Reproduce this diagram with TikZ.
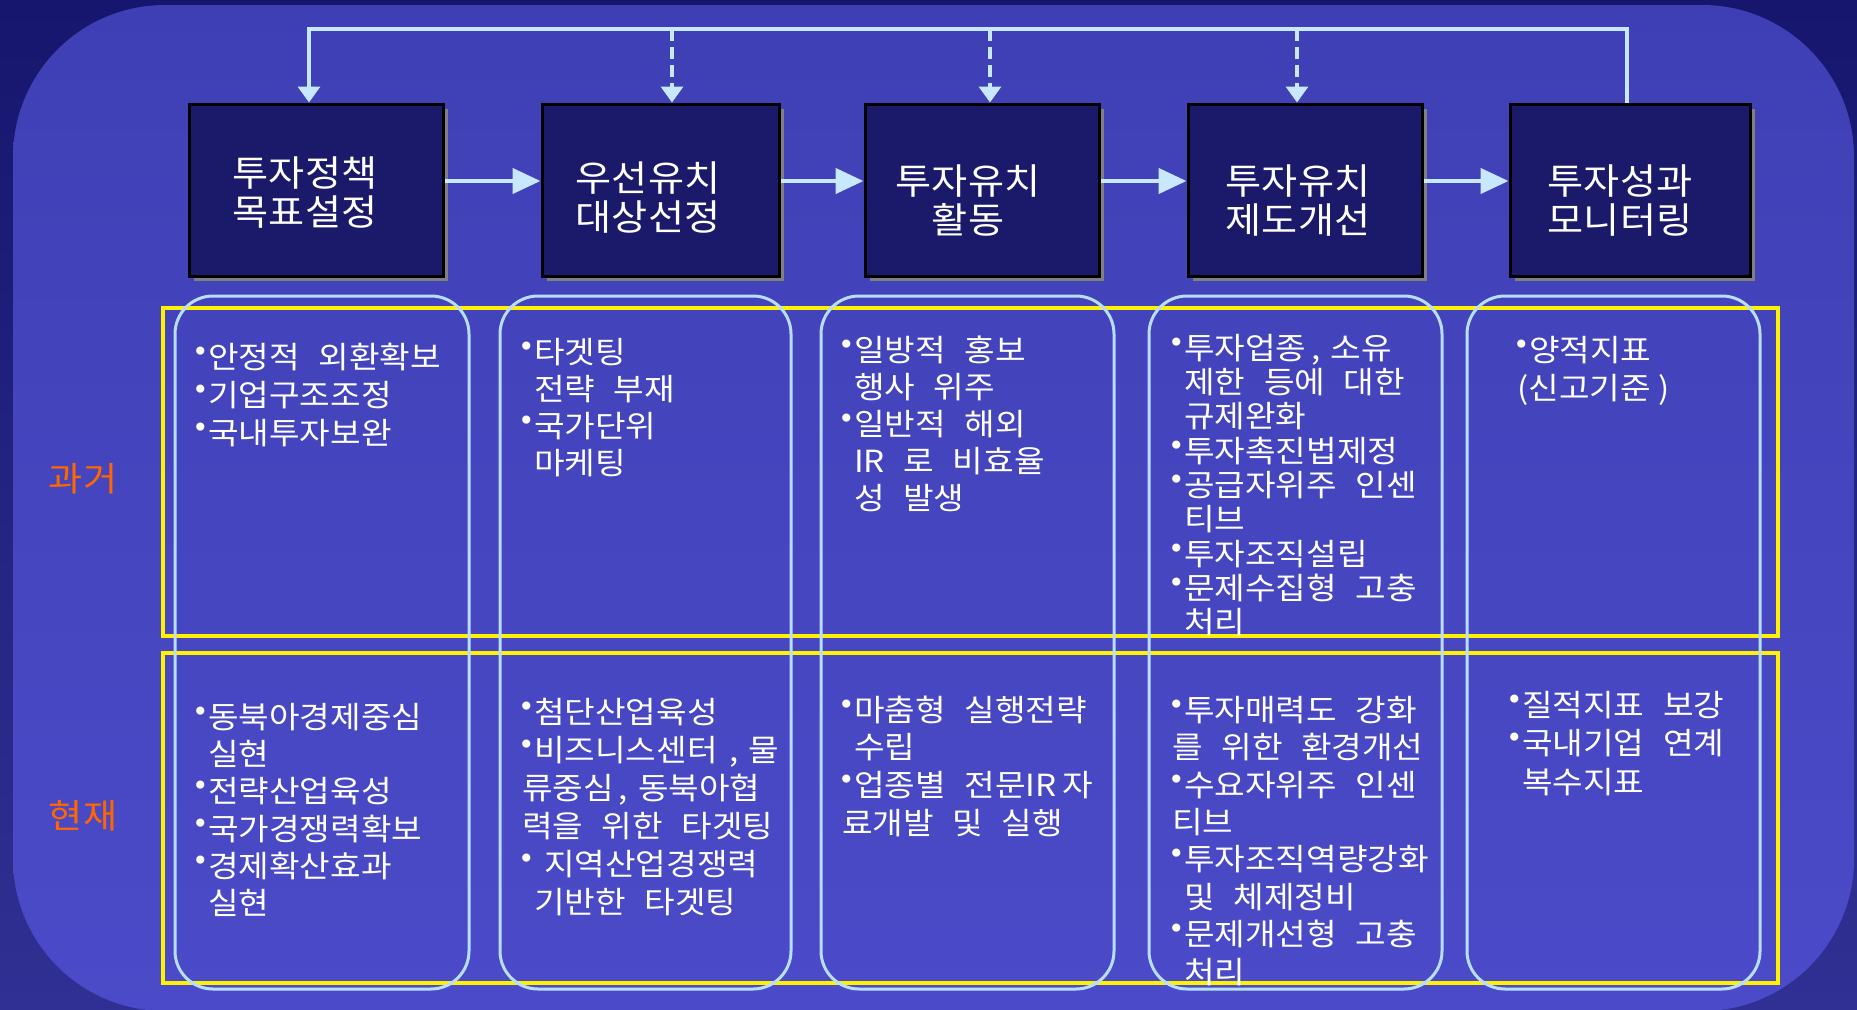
\documentclass[tikz,border=0pt]{standalone}
\usepackage{fontspec}
\setmainfont{Noto Sans CJK KR}[WordSpace=2.5,FakeStretch=1.09]
\newfontfamily\dejavu{DejaVu Sans}
\usetikzlibrary{arrows.meta,shadows}
\definecolor{bgtop}{RGB}{22,22,110}
\definecolor{bgbot}{RGB}{48,48,148}
\definecolor{intop}{RGB}{63,63,181}
\definecolor{inbot}{RGB}{75,75,201}
\definecolor{boxfill}{RGB}{27,26,106}
\definecolor{shadowgray}{RGB}{128,128,128}
\definecolor{arrowc}{RGB}{200,232,255}
\definecolor{colline}{RGB}{184,222,255}
\definecolor{orangelab}{RGB}{255,102,0}
\newcommand\blt{\makebox[12pt][l]{\kern-4pt\raisebox{7pt}{\dejavu\fontsize{28pt}{28pt}\selectfont •}}}
\newcommand\hind{\hspace*{12pt}}
\newcommand\kcm{\kern5pt,\kern10pt}
\newcommand\cellnode[5]{\node[celltext, font=\fontsize{30.5pt}{#4pt}\selectfont] (#1) at (#2,#3-19) {\rule{0pt}{30pt}#5};}
\tikzset{
  box/.style={draw=black, line width=3pt, fill=boxfill, minimum height=172pt, inner sep=0pt,
    drop shadow={shadow xshift=5pt, shadow yshift=-5pt, opacity=1, fill=shadowgray}},
  boxtext/.style={text=white, align=center, font=\fontsize{36pt}{39pt}\selectfont, inner sep=0pt},
  celltext/.style={text=white, align=left, anchor=north west, inner sep=0pt},
  rowlabel/.style={text=orangelab, font=\fontsize{34pt}{34pt}\selectfont, inner sep=0pt},
  colframe/.style={draw=colline, line width=3pt, rounded corners=38pt},
  yframe/.style={draw=yellow, line width=3.5pt},
  harrow/.style={draw=arrowc, line width=4.5pt, -{Triangle[length=28pt,width=25pt]}},
  fbline/.style={draw=arrowc, line width=3.5pt},
  tiph/.style={-{Triangle[length=16pt,width=22pt]}},
  dasharrow/.style={draw=arrowc, line width=3.5pt, dash pattern=on 12pt off 6pt, -{Triangle[length=16pt,width=22pt]}}
}
\begin{document}
\begin{tikzpicture}[x=1pt,y=-1pt]
\useasboundingbox (0,0) rectangle (1857,1009);
% background
\shade[top color=bgtop, bottom color=bgbot] (0,0) rectangle (1857,1009);
\shade[top color=intop, bottom color=inbot, rounded corners=152pt] (13,5) rectangle (1854,1011);

% yellow row frames
\draw[yframe] (163,308) rectangle (1778,636);
\draw[yframe] (163,653) rectangle (1778,983);

% column frames
\draw[colframe] (175,296) rectangle (469,989);
\draw[colframe] (500,296) rectangle (791,989);
\draw[colframe] (821,296) rectangle (1114,989);
\draw[colframe] (1149,296) rectangle (1442,989);
\draw[colframe] (1467,296) rectangle (1760,989);

% top boxes
\node[box, minimum width=254pt] (b1) at (316,190) {};
\node[box, minimum width=237pt] (b2) at (660.5,190) {};
\node[box, minimum width=234pt] (b3) at (982,190) {};
\node[box, minimum width=234pt] (b4) at (1305,190) {};
\node[box, minimum width=240pt] (b5) at (1630,190) {};

\node[boxtext] (t1) at (305,193) {투자정책\\목표설정};
\node[boxtext] (t2) at (648,198) {우선유치\\대상선정};
\node[boxtext] (t3) at (968,200) {투자유치\\활동};
\node[boxtext] (t4) at (1298,201) {투자유치\\제도개선};
\node[boxtext] (t5) at (1620,201) {투자성과\\모니터링};

% process arrows
\draw[harrow] ([yshift=9pt]b1.east) -- ([yshift=9pt]b2.west);
\draw[harrow] ([yshift=9pt]b2.east) -- ([yshift=9pt]b3.west);
\draw[harrow] ([yshift=9pt]b3.east) -- ([yshift=9pt]b4.west);
\draw[harrow] ([yshift=9pt]b4.east) -- ([yshift=9pt]b5.west);

% feedback
\coordinate (fbL) at (309,29);
\coordinate (d2) at (672,29);
\coordinate (d3) at (990,29);
\coordinate (d4) at (1297,29);
\draw[fbline, tiph] ([xshift=-3pt]b5.north) |- (fbL) -- (fbL |- b1.north);
\draw[dasharrow] (d2) -- (d2 |- b2.north);
\draw[dasharrow] (d3) -- (d3 |- b3.north);
\draw[dasharrow] (d4) -- (d4 |- b4.north);

% row labels
\node[rowlabel] (past) at (83,479) {과거};
\node[rowlabel] (now) at (83,816) {현재};

% past row
\cellnode{c1p}{196}{357}{38}{\blt 안정적 외환확보\\\blt 기업구조조정\\\blt 국내투자보완}
\cellnode{c2p}{522}{352}{37}{\blt 타겟팅\\\hind 전략 부재\\\blt 국가단위\\\hind 마케팅}
\cellnode{c3p}{842}{350}{37}{\blt 일방적 홍보\\\hind 행사 위주\\\blt 일반적 해외\\\hind IR 로 비효율\\\hind 성 발생}
\cellnode{c4p}{1172}{348}{34.3}{\blt 투자업종\kcm 소유\\\hind 제한 등에 대한\\\hind 규제완화\\\blt 투자촉진법제정\\\blt 공급자위주 인센\\\hind 티브\\\blt 투자조직설립\\\blt 문제수집형 고충\\\hind 처리}
\cellnode{c5p}{1517}{350}{38}{\blt 양적지표\\(신고기준\kern8pt )}

% present row
\cellnode{c1n}{196}{717}{37.3}{\blt 동북아경제중심\\\hind 실현\\\blt 전략산업육성\\\blt 국가경쟁력확보\\\blt 경제확산효과\\\hind 실현}
\cellnode{c2n}{522}{712}{38}{\blt 첨단산업육성\\\blt 비즈니스센터\kern12pt,\kern10pt 물\\류중심\kcm 동북아협\\력을 위한 타겟팅\\\blt\kern10pt 지역산업경쟁력\\\hind 기반한 타겟팅}
\cellnode{c3n}{842}{710}{37.7}{\blt 마춤형 실행전략\\\hind 수립\\\blt 업종별 전문IR\kern6pt 자\\료개발 및 실행}
\cellnode{c4n}{1172}{710}{37.4}{\blt 투자매력도 강화\\를 위한 환경개선\\\blt 수요자위주 인센\\티브\\\blt 투자조직역량강화\\\hind 및 체제정비\\\blt 문제개선형 고충\\\hind 처리}
\cellnode{c5n}{1510}{705}{38.5}{\blt 질적지표 보강\\\blt 국내기업 연계\\\hind 복수지표}
\end{tikzpicture}
\end{document}
